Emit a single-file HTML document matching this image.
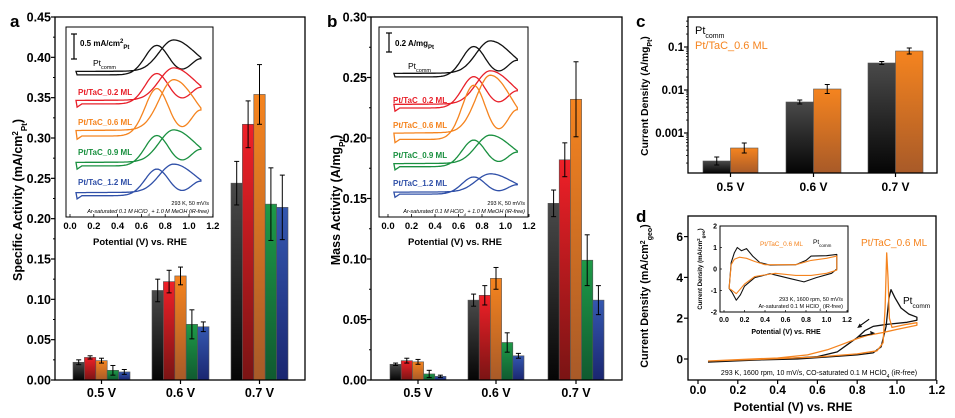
<!DOCTYPE html>
<html><head><meta charset="utf-8"><style>
html,body{margin:0;padding:0;background:#fff;}
svg{display:block;font-family:"Liberation Sans",Arial,sans-serif;font-weight:bold;}
</style></head><body>
<svg id="s" width="955" height="418" viewBox="0 0 955 418" xmlns="http://www.w3.org/2000/svg">
<defs>
<linearGradient id="gk" x1="0" y1="0" x2="0" y2="1"><stop offset="0" stop-color="#4a4a4a"/><stop offset="1" stop-color="#050505"/></linearGradient>
<linearGradient id="gr" x1="0" y1="0" x2="0" y2="1"><stop offset="0" stop-color="#f02028"/><stop offset="1" stop-color="#7a1414"/></linearGradient>
<linearGradient id="go" x1="0" y1="0" x2="0" y2="1"><stop offset="0" stop-color="#f5841f"/><stop offset="1" stop-color="#a85a28"/></linearGradient>
<linearGradient id="gg" x1="0" y1="0" x2="0" y2="1"><stop offset="0" stop-color="#1e9a48"/><stop offset="1" stop-color="#105a30"/></linearGradient>
<linearGradient id="gb" x1="0" y1="0" x2="0" y2="1"><stop offset="0" stop-color="#3558b0"/><stop offset="1" stop-color="#1a2670"/></linearGradient>
</defs>
<g id="root"></g>
<text x="10" y="27" font-size="17">a</text>
<text x="327" y="27" font-size="17">b</text>
<text x="636" y="27" font-size="17">c</text>
<text x="636" y="222" font-size="17">d</text>
<text transform="translate(22,200) rotate(-90)" font-size="12.5" text-anchor="middle">Specific Activity (mA/cm<tspan baseline-shift="super" font-size="8">2</tspan><tspan baseline-shift="sub" font-size="8">Pt</tspan>)</text>
<text transform="translate(340,200) rotate(-90)" font-size="12.5" text-anchor="middle">Mass Activity (A/mg<tspan baseline-shift="sub" font-size="8">Pt</tspan>)</text>
<text transform="translate(648,96) rotate(-90)" font-size="10.3" text-anchor="middle">Current Density (A/mg<tspan baseline-shift="sub" font-size="7">Pt</tspan>)</text>
<text transform="translate(648,296) rotate(-90)" font-size="10.8" text-anchor="middle">Current Density (mA/cm<tspan baseline-shift="super" font-size="7">2</tspan><tspan baseline-shift="sub" font-size="7">geo</tspan>)</text>
<text transform="translate(702,269) rotate(-90)" font-size="6" text-anchor="middle">Current Density (mA/cm<tspan baseline-shift="super" font-size="4.5">2</tspan><tspan baseline-shift="sub" font-size="4.5">geo</tspan>)</text>
<text x="80" y="46" font-size="8">0.5 mA/cm<tspan baseline-shift="super" font-size="6">2</tspan><tspan baseline-shift="sub" font-size="6">Pt</tspan></text>
<text x="93" y="66" font-size="8.5" font-weight="normal">Pt<tspan baseline-shift="sub" font-size="5.5">comm</tspan></text>
<text x="78" y="95" font-size="8" fill="#e8202a">Pt/TaC_0.2 ML</text>
<text x="78" y="125" font-size="8" fill="#f5841f">Pt/TaC_0.6 ML</text>
<text x="78" y="155" font-size="8" fill="#1a9040">Pt/TaC_0.9 ML</text>
<text x="78" y="185" font-size="8" fill="#3050a8">Pt/TaC_1.2 ML</text>
<text x="209" y="205" font-size="5.5" font-weight="normal" text-anchor="end">293 K, 50 mV/s</text>
<text x="209" y="213" font-size="5.5" font-weight="normal" font-style="italic" text-anchor="end">Ar-saturated 0.1 M HClO<tspan baseline-shift="sub" font-size="4">4</tspan> + 1.0 M MeOH (iR-free)</text>
<text x="140" y="245" font-size="9.5" text-anchor="middle">Potential (V) vs. RHE</text>
<text x="395" y="46" font-size="8">0.2 A/mg<tspan baseline-shift="sub" font-size="6">Pt</tspan></text>
<text x="408" y="69" font-size="8.5" font-weight="normal">Pt<tspan baseline-shift="sub" font-size="5.5">comm</tspan></text>
<text x="393" y="103" font-size="8" fill="#e8202a">Pt/TaC_0.2 ML</text>
<text x="393" y="128" font-size="8" fill="#f5841f">Pt/TaC_0.6 ML</text>
<text x="393" y="158" font-size="8" fill="#1a9040">Pt/TaC_0.9 ML</text>
<text x="393" y="186" font-size="8" fill="#3050a8">Pt/TaC_1.2 ML</text>
<text x="525" y="205" font-size="5.5" font-weight="normal" text-anchor="end">293 K, 50 mV/s</text>
<text x="525" y="213" font-size="5.5" font-weight="normal" font-style="italic" text-anchor="end">Ar-saturated 0.1 M HClO<tspan baseline-shift="sub" font-size="4">4</tspan> + 1.0 M MeOH (iR-free)</text>
<text x="455" y="245" font-size="9.5" text-anchor="middle">Potential (V) vs. RHE</text>
<text x="695" y="34" font-size="11" font-weight="normal">Pt<tspan baseline-shift="sub" font-size="7">comm</tspan></text>
<text x="695" y="49" font-size="11" font-weight="normal" fill="#f5841f">Pt/TaC_0.6 ML</text>
<text x="861" y="246" font-size="10" font-weight="normal" fill="#f5841f">Pt/TaC_0.6 ML</text>
<text x="903" y="304" font-size="10" font-weight="normal">Pt<tspan baseline-shift="sub" font-size="6.5">comm</tspan></text>
<text x="819" y="375" font-size="7" font-weight="normal" text-anchor="middle">293 K, 1600 rpm, 10 mV/s, CO-saturated 0.1 M HClO<tspan baseline-shift="sub" font-size="5">4</tspan> (iR-free)</text>
<text x="760" y="246" font-size="6.5" font-weight="normal" fill="#f5841f">Pt/TaC_0.6 ML</text>
<text x="813" y="244" font-size="6.5" font-weight="normal">Pt<tspan baseline-shift="sub" font-size="4.5">comm</tspan></text>
<text x="843" y="301" font-size="5.5" font-weight="normal" text-anchor="end">293 K, 1600 rpm, 50 mV/s</text>
<text x="843" y="308" font-size="5.5" font-weight="normal" text-anchor="end">Ar-saturated 0.1 M HClO<tspan baseline-shift="sub" font-size="4">4</tspan> (iR-free)</text>
<text x="786" y="334" font-size="7" text-anchor="middle">Potential (V) vs. RHE</text>
<text x="793" y="411" font-size="12" text-anchor="middle">Potential (V) vs. RHE</text>
</svg>
<script>
var R=document.getElementById('root'),NS='http://www.w3.org/2000/svg';
function E(t,a,txt){var e=document.createElementNS(NS,t);for(var k in a)e.setAttribute(k,a[k]);if(txt!==undefined)e.textContent=txt;R.appendChild(e);return e;}
function L(x1,y1,x2,y2,w,c){E('line',{x1:x1,y1:y1,x2:x2,y2:y2,stroke:c||'#000','stroke-width':w||1});}
function T(x,y,s,fs,anc){E('text',{x:x,y:y,'font-size':fs,'text-anchor':anc||'middle'},s);}
var grads=['url(#gk)','url(#gr)','url(#go)','url(#gg)','url(#gb)'];
function barPanel(x0,x1,top,ymax,step,dec,starts,bw,vals,errs){
  var y0=380,sc=(y0-top)/ymax;
  for(var g=0;g<3;g++)for(var i=0;i<vals[g].length;i++){
    var v=vals[g][i],x=starts[g]+i*bw,y=y0-v*sc;
    E('rect',{x:x,y:y,width:bw,height:y0-y,fill:grads[i],stroke:'#555','stroke-width':0.6});
    var e=errs[g][i]*sc,cx=x+bw/2;
    L(cx,y-e,cx,y+e,1);L(cx-2.5,y-e,cx+2.5,y-e,1);L(cx-2.5,y+e,cx+2.5,y+e,1);
  }
  E('rect',{x:x0,y:top,width:x1-x0,height:y0-top,fill:'none',stroke:'#000','stroke-width':1.3});
  for(var k=0;k*step<=ymax+1e-9;k++){var y=y0-k*step*sc;L(x0-4,y,x0,y,1.2);T(x0-4,y+4.5,(k*step).toFixed(dec),12.5,'end');
    if(k*step<ymax-1e-9)L(x0-2,y-step*sc/2,x0,y-step*sc/2,1);}
  var labs=['0.5 V','0.6 V','0.7 V'];
  for(var g=0;g<3;g++){var c=starts[g]+bw*2.5;L(c,380,c,384,1.2);T(c,397,labs[g],12.5);}
}
barPanel(55,305,17,0.45,0.05,2,[73,152,231],11.4,
 [[.022,.028,.024,.012,.010],[.111,.122,.129,.069,.066],[.244,.317,.354,.218,.214]],
 [[.003,.002,.003,.006,.003],[.014,.014,.011,.018,.006],[.027,.029,.037,.045,.04]]);
barPanel(371,622,17,0.30,0.05,2,[390,468,548],11.2,
 [[.013,.016,.015,.005,.003],[.066,.070,.084,.031,.020],[.146,.182,.232,.099,.066]],
 [[.001,.002,.002,.003,.001],[.005,.008,.009,.008,.002],[.011,.014,.031,.021,.012]]);
(function(){
 var st=[703,786,868],bw=27.5,tops=[[161,148],[102,89],[63,51]],er=[[4,5],[2,4.5],[1.5,3]];
 for(var g=0;g<3;g++)for(var i=0;i<2;i++){var x=st[g]+i*bw,y=tops[g][i];
   E('rect',{x:x,y:y,width:bw,height:173-y,fill:grads[i*2],stroke:'#555','stroke-width':0.6});
   var cx=x+bw/2,e=er[g][i];L(cx,y-e,cx,y+e,1);L(cx-2.5,y-e,cx+2.5,y-e,1);L(cx-2.5,y+e,cx+2.5,y+e,1);}
 E('rect',{x:688,y:17,width:249,height:156,fill:'none',stroke:'#000','stroke-width':1.3});
 var labs=[['0.1',47],['0.01',90],['0.001',133]];
 labs.forEach(function(l){L(684,l[1],688,l[1],1.2);T(684,l[1]+4,l[0],11.5,'end');});
 for(var d=-4;d<0;d++)for(var m=2;m<10;m++){var y=47-(d+1+Math.log10(m))*43;if(y>17&&y<173)L(686,y,688,y,0.8);}
 var cl=['0.5 V','0.6 V','0.7 V'];for(var g=0;g<3;g++){var c=st[g]+bw;L(c,173,c,177,1.2);T(c,191,cl[g],12);}
})();
function gs(v,m,wl,wr){var w=v<m?wl:wr;return Math.exp(-Math.pow((v-m)/w,2));}
function fwd(v){return 0.05+gs(v,0.87,0.17,0.25)+0.02*(v-0.05);}
function bwd(v){return -0.06+0.95*gs(v,0.73,0.14,0.14)+0.52*Math.exp(-Math.pow((1.1-v)/0.12,2));}
function inset(x0,y0,x1,y1,xv0,xs,bases,amps,cols){
 E('rect',{x:x0,y:y0,width:x1-x0,height:y1-y0,fill:'#fff',stroke:'#000','stroke-width':1});
 for(var c=0;c<bases.length;c++){var d='',v;
   for(v=0.05;v<=1.1001;v+=0.01)d+=(d?'L':'M')+(xv0+v*xs).toFixed(1)+','+(bases[c]-amps[c]*fwd(v)).toFixed(1);
   for(v=1.1;v>=0.05;v-=0.01)d+='L'+(xv0+v*xs).toFixed(1)+','+(bases[c]-amps[c]*bwd(v)+(v<0.1&&c>0?(0.1-v)*80:0)).toFixed(1);
   d+='Z';E('path',{d:d,fill:'none',stroke:cols[c],'stroke-width':1.3});}
 for(var k=0;k<=6;k++){var x=xv0+k*0.2*xs;L(x,y1,x,y1-3,0.8);T(x,y1+12,(k*0.2).toFixed(1),9.5);}
}
var cc=['#111','#e8202a','#f5841f','#1a9040','#3050a8'];
inset(66,27,213,217,70,119,[73,102,133,164,194],[31,32,50,32,28],cc);
L(74,34,74,59,1.2);L(71,34,77,34,1.2);L(71,59,77,59,1.2);
inset(379,27,528,217,388,117.5,[75,106,136,165,193],[32,33,57,28,18],cc);
L(389,33,389,52,1.2);L(386,33,392,33,1.2);L(386,52,392,52,1.2);
(function(){
 var X=function(v){return 698+v*199},Y=function(j){return 359-j*20.4};
 E('rect',{x:688,y:216,width:248,height:164,fill:'none',stroke:'#000','stroke-width':1.3});
 for(var k=0;k<=6;k++){var x=X(k*0.2);L(x,380,x,384,1.2);T(x,394,(k*0.2).toFixed(1),12);}
 for(var j=0;j<=6;j+=2){L(684,Y(j),688,Y(j),1.2);T(683,Y(j)+4.5,''+j,12,'end');}
 function P(pts,col,w){var d='';pts.forEach(function(p,i){d+=(i?'L':'M')+X(p[0]).toFixed(1)+','+Y(p[1]).toFixed(1);});E('path',{d:d,fill:'none',stroke:col,'stroke-width':w||1.3,'stroke-linejoin':'round'});}
 P([[0.05,-0.15],[0.3,-0.05],[0.5,0.0],[0.65,0.1],[0.8,0.2],[0.88,0.3],[0.92,0.6],[0.945,1.6],[0.96,3.0],[0.97,3.4],[0.99,3.0],[1.02,2.5],[1.06,2.2],[1.1,2.05],[1.1,1.9],[1.05,1.8],[0.95,1.7],[0.88,1.6],[0.84,1.4],[0.8,1.05],[0.75,0.7],[0.7,0.35],[0.6,0.12],[0.4,0.0],[0.2,-0.08],[0.05,-0.15]],'#111');
 P([[0.05,-0.1],[0.3,-0.02],[0.6,0.1],[0.8,0.25],[0.9,0.4],[0.93,0.8],[0.94,2.5],[0.948,5.2],[0.955,4.0],[0.962,2.0],[0.975,1.55],[1.0,1.6],[1.05,1.7],[1.1,1.78],[1.1,1.65],[1.0,1.45],[0.93,1.3],[0.85,1.15],[0.8,1.0],[0.72,0.7],[0.65,0.45],[0.55,0.2],[0.4,0.05],[0.2,-0.03],[0.05,-0.1]],'#f5841f');
 L(X(0.86),Y(1.95),X(0.81),Y(1.6),1.1);E('path',{d:'M'+X(0.8)+','+Y(1.52)+' l5,-1 l-2.5,-3.5z',fill:'#111'});
 L(X(0.81),Y(1.1),X(0.88),Y(1.25),1.1);E('path',{d:'M'+X(0.89)+','+Y(1.27)+' l-5,-2.2 l0.8,4z',fill:'#111'});
 var x=function(v){return 724+v*102.5},y=function(j){return 269-j*21.5};
 E('rect',{x:720,y:226,width:128,height:86,fill:'#fff',stroke:'#000','stroke-width':1});
 for(var k=0;k<=6;k++){L(x(k*0.2),312,x(k*0.2),310,0.7);T(x(k*0.2),322,(k*0.2).toFixed(1),7);}
 for(var j=-2;j<=2;j++){L(720,y(j),722,y(j),0.7);T(717,y(j)+2.5,''+j,7,'end');}
 function Q(pts,col){var d='';pts.forEach(function(p,i){d+=(i?'L':'M')+x(p[0]).toFixed(1)+','+y(p[1]).toFixed(1);});d+='Z';E('path',{d:d,fill:'none',stroke:col,'stroke-width':1.1,'stroke-linejoin':'round'});}
 Q([[0.05,-0.9],[0.07,0.3],[0.1,0.75],[0.13,1.0],[0.17,0.85],[0.22,0.95],[0.28,0.6],[0.35,0.3],[0.45,0.18],[0.7,0.2],[0.8,0.4],[0.85,0.6],[1.0,0.62],[1.1,0.68],[1.1,0.0],[1.05,-0.2],[0.9,-0.4],[0.78,-0.6],[0.65,-0.45],[0.45,-0.22],[0.3,-0.4],[0.2,-0.8],[0.16,-1.2],[0.12,-1.45],[0.08,-1.1]],'#111');
 Q([[0.05,-0.9],[0.07,0.2],[0.1,0.45],[0.15,0.55],[0.22,0.5],[0.3,0.35],[0.4,0.2],[0.7,0.2],[0.85,0.4],[1.0,0.5],[1.1,0.6],[1.1,-0.05],[1.0,-0.2],[0.85,-0.3],[0.7,-0.3],[0.5,-0.2],[0.3,-0.35],[0.2,-0.7],[0.12,-1.15],[0.08,-1.0]],'#f5841f');
})();
</script>
</body></html>
